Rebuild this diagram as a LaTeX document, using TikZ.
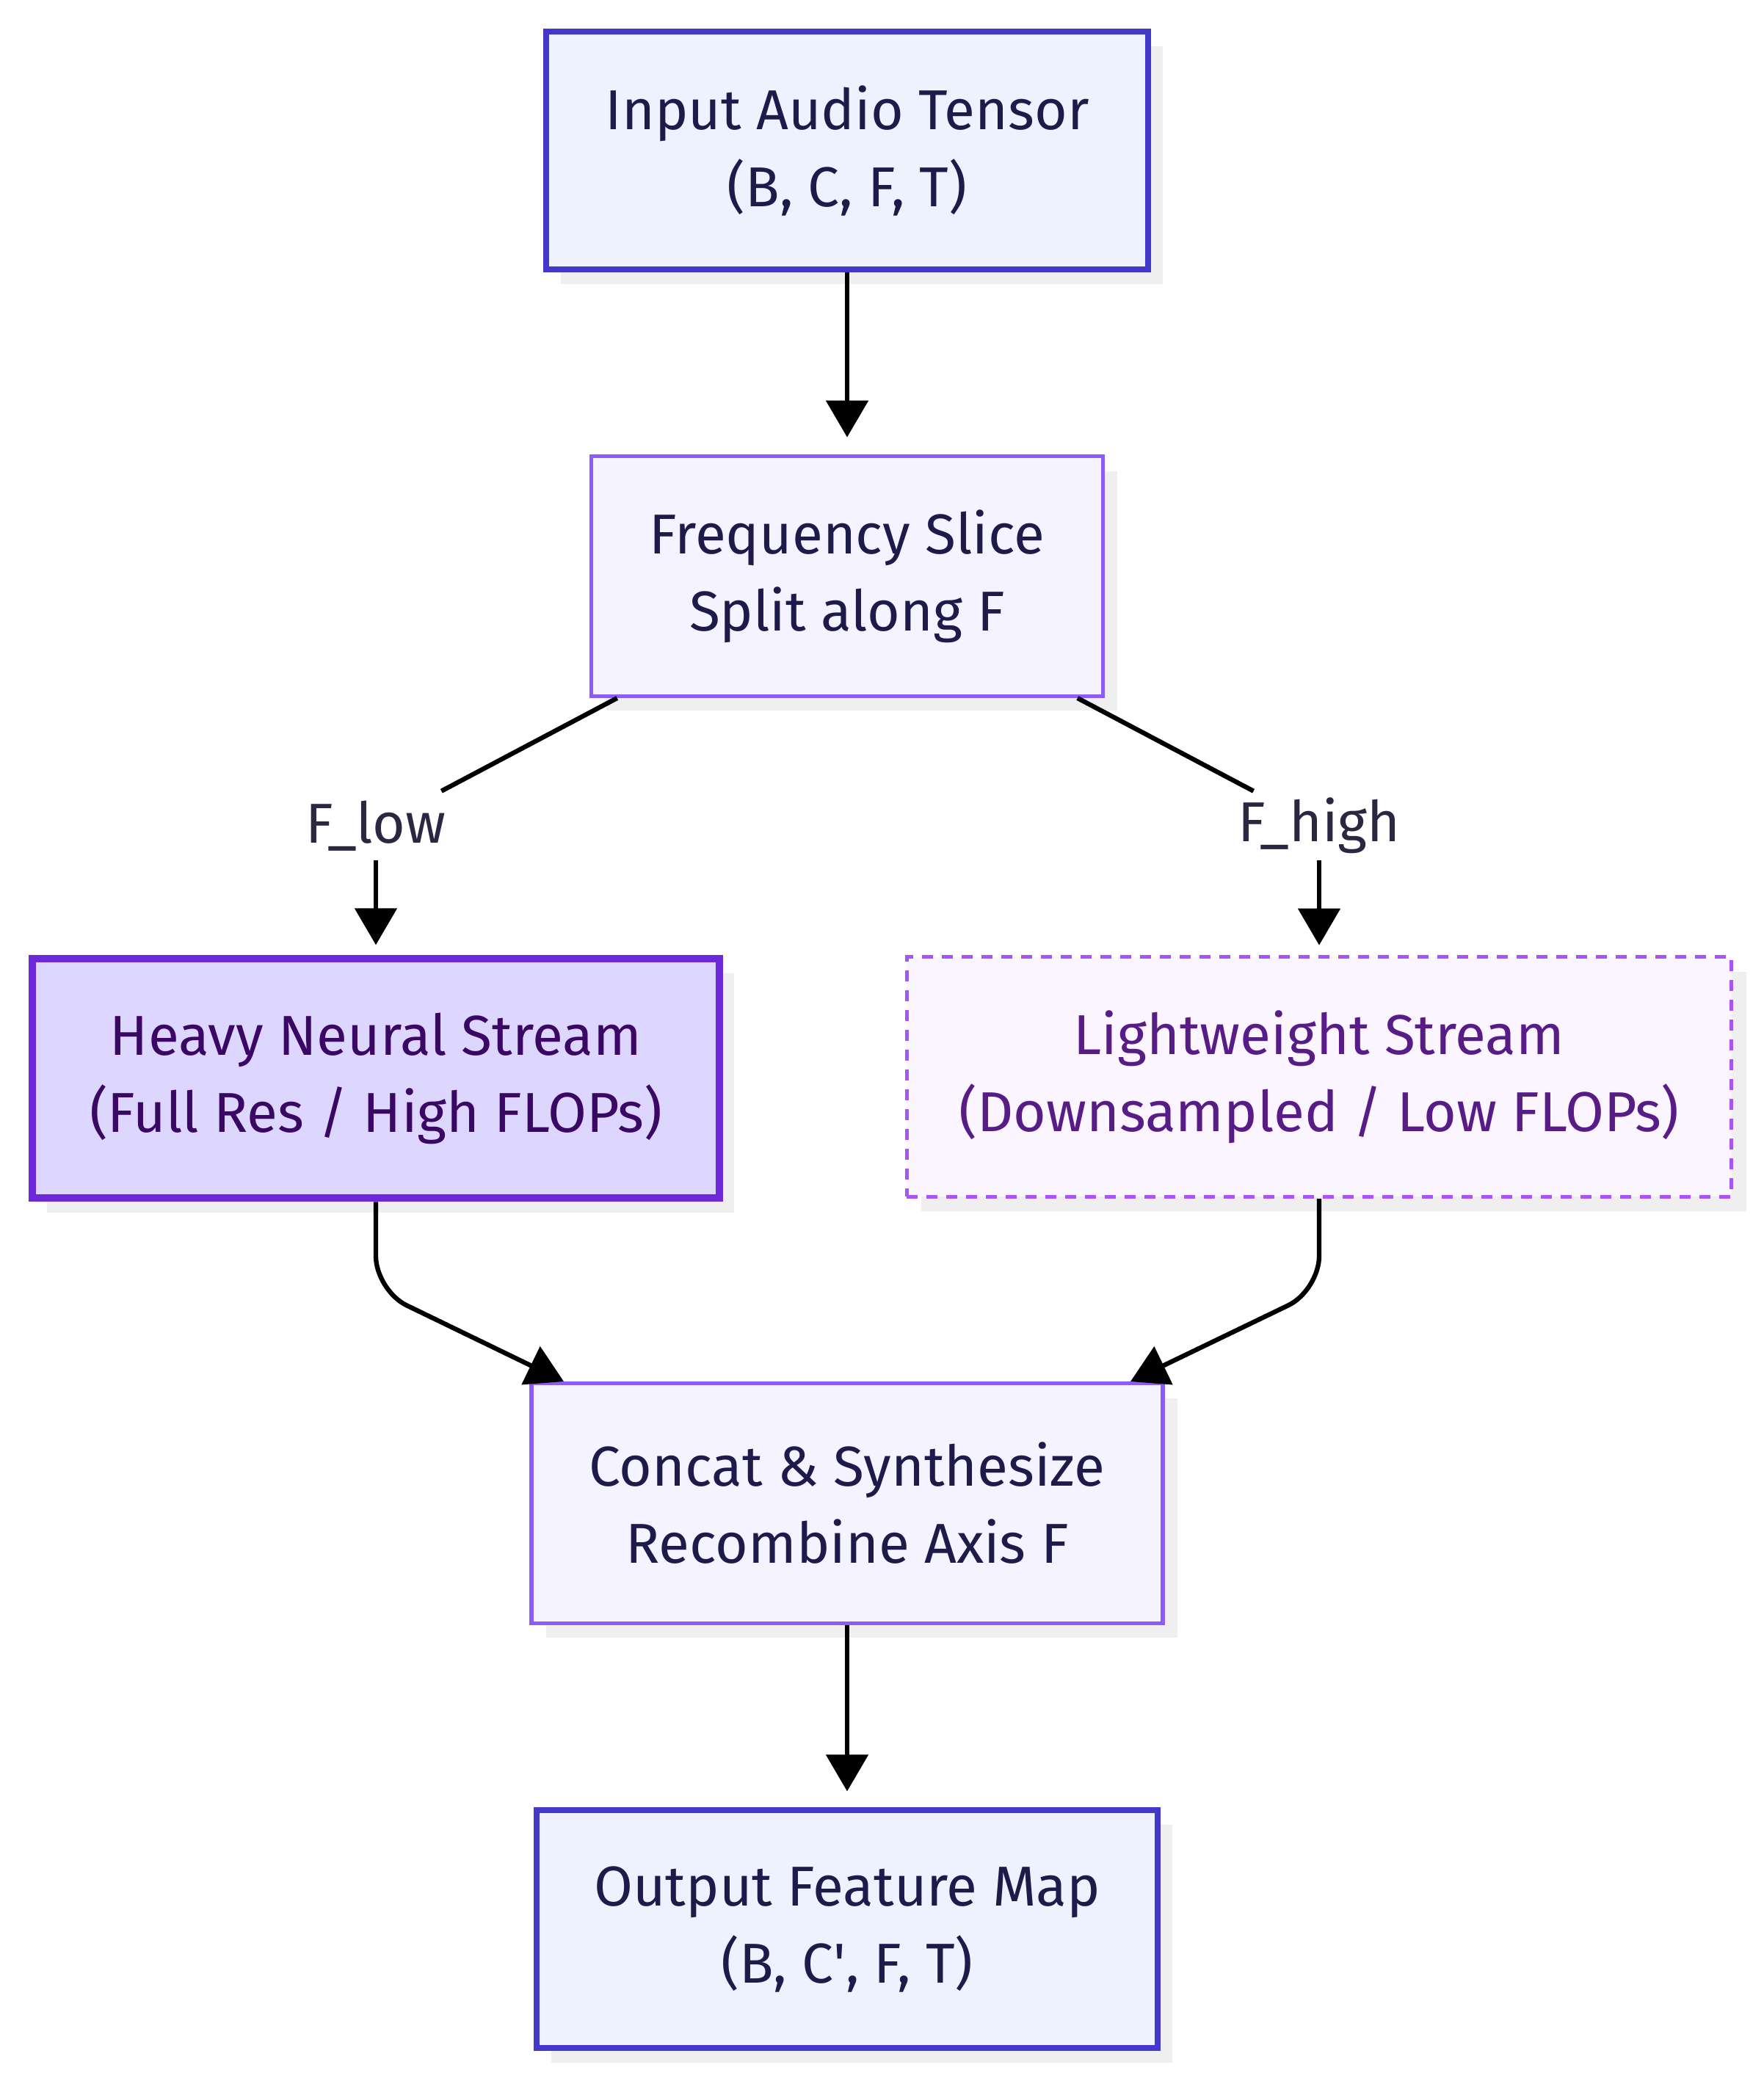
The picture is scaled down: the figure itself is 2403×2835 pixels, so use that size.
\documentclass[tikz,border=0pt]{standalone}
\usepackage{fontspec}
\setmainfont{Fira Sans}
\usetikzlibrary{arrows.meta,shadows,calc}
\definecolor{indigoB}{HTML}{4338CA}
\definecolor{indigoF}{HTML}{EEF2FF}
\definecolor{violB}{HTML}{8B5CF6}
\definecolor{violF}{HTML}{F5F3FF}
\definecolor{heavyB}{HTML}{6D28D9}
\definecolor{heavyF}{HTML}{DDD6FE}
\definecolor{heavyT}{HTML}{3B0764}
\definecolor{lightB}{HTML}{A855F7}
\definecolor{lightF}{HTML}{FAF5FF}
\definecolor{lightT}{HTML}{581C87}
\definecolor{darkT}{HTML}{1E1B4B}
\definecolor{lblT}{HTML}{2A2840}
\definecolor{shadowc}{HTML}{EFEFEF}
\tikzset{
  box/.style={draw, rectangle, align=center, inner sep=0pt,
    font=\fontsize{23}{31.5}\selectfont,
    drop shadow={shadow xshift=6pt, shadow yshift=-6pt, fill=shadowc, opacity=1}},
  boxA/.style={box, draw=indigoB, fill=indigoF, line width=2.4pt, text=darkT},
  boxB/.style={box, draw=violB, fill=violF, line width=1.6pt, text=darkT},
  boxH/.style={box, draw=heavyB, fill=heavyF, line width=3pt, text=heavyT},
  boxL/.style={box, draw=lightB, fill=lightF, line width=1.6pt, text=lightT,
    dash pattern=on 4.5pt off 3.6pt},
  lbl/.style={rectangle, inner sep=0pt, minimum height=28pt, minimum width=58pt,
    font=\fontsize{23}{26}\selectfont, text=lblT},
  arr/.style={draw=black, line width=1.9pt, -{Triangle[length=15pt, width=17pt]}},
  conn/.style={draw=black, line width=1.9pt},
}
\begin{document}
\begin{tikzpicture}[x=0.3pt, y=-0.3pt]
\useasboundingbox (0,0) rectangle (2403,2835);
\node[boxA, minimum width=246pt, minimum height=97pt] (inp) at (1154,205) {Input Audio Tensor\\(B, C, F, T)};
\node[boxB, minimum width=209pt, minimum height=98pt] (slice) at (1154,785) {Frequency Slice\\Split along F};
\node[boxH, minimum width=281pt, minimum height=98pt] (heavy) at (512,1469) {Heavy Neural Stream\\(Full Res / High FLOPs)};
\node[boxL, minimum width=337pt, minimum height=98pt] (light) at (1797,1467) {Lightweight Stream\\(Downsampled / Low FLOPs)};
\node[boxB, minimum width=258pt, minimum height=98pt] (concat) at (1154,2048) {Concat \& Synthesize\\Recombine Axis F};
\node[boxA, minimum width=254pt, minimum height=97pt] (out) at (1154,2628) {Output Feature Map\\(B, C\textquotesingle, F, T)};
\node[lbl] (flow) at (512,1125) {F\_low};
\node[lbl] (fhigh) at (1797,1125) {F\_high};
\coordinate (cl) at (768,1882);
\coordinate (cr) at (1540,1882);
\draw[arr, shorten >=7pt] (inp) -- (slice);
\draw[conn] (slice) -- (flow);
\draw[conn] (slice) -- (fhigh);
\draw[arr, shorten >=4pt] (flow) -- (heavy);
\draw[arr, shorten >=4pt] (fhigh) -- (light);
\draw[arr, rounded corners=14pt] (heavy.south) -- (512,1758) -- (cl);
\draw[arr, rounded corners=14pt] (light.south) -- (1797,1758) -- (cr);
\draw[arr, shorten >=6.6pt] (concat) -- (out);
\end{tikzpicture}
\end{document}
